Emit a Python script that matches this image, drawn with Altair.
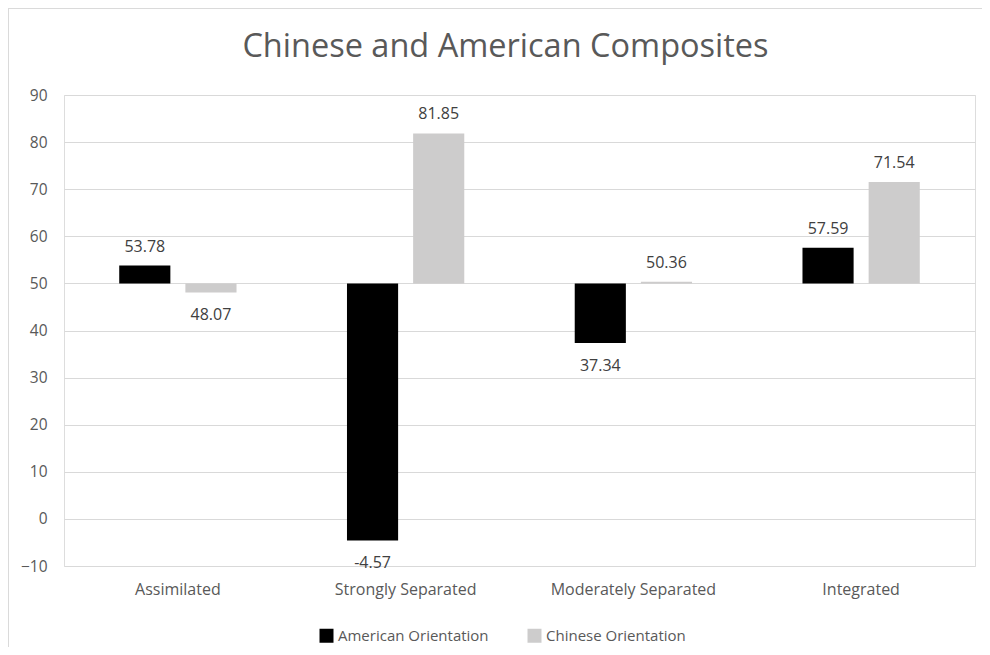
import altair as alt
import pandas as pd

categories = ["Assimilated", "Strongly Separated", "Moderately Separated", "Integrated"]
series = ["American Orientation", "Chinese Orientation"]
american = [53.78, -4.57, 37.34, 57.59]
chinese = [48.07, 81.85, 50.36, 71.54]
colors = ["#000000", "#cdcccc"]

rows = []
for i, c in enumerate(categories):
    rows.append({"category": c, "series": series[0], "value": american[i], "label": f"{american[i]:.2f}"})
    rows.append({"category": c, "series": series[1], "value": chinese[i], "label": f"{chinese[i]:.2f}"})
df = pd.DataFrame(rows)

FONT = "'Open Sans', 'Noto Sans', sans-serif"

x = alt.X("category:N", sort=categories, title=None,
          scale=alt.Scale(paddingInner=0.485, paddingOuter=0.2425),
          axis=alt.Axis(labelAngle=0, labelFontSize=16, labelColor="#595959", labelFont=FONT,
                        ticks=False, domain=False, labelPadding=15))
xo = alt.XOffset("series:N", sort=series, scale=alt.Scale(paddingInner=0.227, paddingOuter=0))
y = alt.Y("value:Q", title=None,
          scale=alt.Scale(domain=[-10, 90], nice=False, zero=False),
          axis=alt.Axis(values=list(range(-10, 91, 10)), labelFontSize=15.5, labelColor="#595959",
                        labelFont=FONT, ticks=False, domain=False, gridColor="#d9d9d9",
                        labelPadding=17))

base = alt.Chart(df).encode(x=x, xOffset=xo)

bars = base.mark_bar().encode(
    y=y,
    y2=alt.datum(50),
    color=alt.Color("series:N", sort=series, title=None,
                    scale=alt.Scale(domain=series, range=colors),
                    legend=alt.Legend(orient="none", legendX=255, legendY=533, direction="horizontal",
                                      symbolType="square", symbolSize=196, symbolStrokeWidth=0,
                                      labelFontSize=15, labelColor="#595959", labelFont=FONT,
                                      columnPadding=38, symbolOffset=0, labelOffset=4, padding=0)),
)

above = base.transform_filter("datum.value >= 50").mark_text(
    baseline="alphabetic", dy=-14, fontSize=16, color="#404040", font=FONT
).encode(y=alt.Y("value:Q"), text="label:N")
below = base.transform_filter("datum.value < 50").mark_text(
    baseline="alphabetic", dy=28, fontSize=16, color="#404040", font=FONT
).encode(y=alt.Y("value:Q"), text="label:N")

border_top = alt.Chart(df).mark_rule(color="#d9d9d9", strokeWidth=1, clip=False).encode(
    x=alt.value(-56), x2=alt.value(930), y=alt.value(-87))
border_left = alt.Chart(df).mark_rule(color="#d9d9d9", strokeWidth=1, clip=False).encode(
    x=alt.value(-56), y=alt.value(-87), y2=alt.value(565))

chart = alt.layer(border_top, border_left, bars, above, below).properties(
    width=911, height=471,
    title=alt.Title("Chinese and American Composites", fontSize=32.5, font=FONT, color="#595959",
                    fontWeight="normal", offset=-56, dx=-14),
    autosize=alt.AutoSizeParams(type="none"),
    padding={"left": 56, "top": 87, "right": 7, "bottom": 81},
).configure_view(strokeWidth=0).configure(background="white")

chart.save("out.html", embed_options={"renderer": "svg", "actions": False})
